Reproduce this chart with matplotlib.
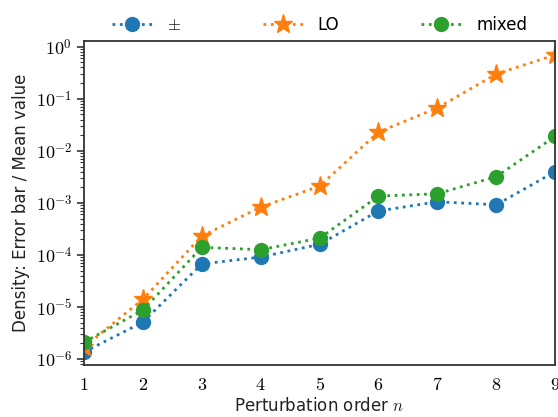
import matplotlib
matplotlib.use("Agg")
import matplotlib.pyplot as plt
import numpy as np

plt.rcParams['mathtext.fontset'] = 'cm'
plt.rcParams['font.family'] = ['DejaVu Sans']

orders = [1, 2, 3, 4, 5, 6, 7, 8, 9]
pm_vals = [1.36e-6, 5.1e-6, 6.7e-5, 9.1e-5, 1.6e-4, 7.0e-4, 1.05e-3, 9.2e-4, 4.0e-3]
lo_vals = [1.7e-6, 1.4e-5, 2.3e-4, 8.3e-4, 2.1e-3, 2.3e-2, 6.7e-2, 0.30, 0.70]
mixed_vals = [2.1e-6, 8.7e-6, 1.4e-4, 1.26e-4, 2.1e-4, 1.35e-3, 1.5e-3, 3.2e-3, 1.9e-2]
labels = [r'$\pm$', 'LO', 'mixed']

fig = plt.figure(figsize=(5.58, 4.17), dpi=100)
ax = fig.add_axes([0.1505, 0.125, 0.8445, 0.777])

ax.plot(orders, pm_vals, ls=':', marker='o', ms=10, color='#1f77b4', lw=2, label=labels[0])
ax.plot(orders, lo_vals, ls=':', marker='*', ms=14, color='#ff7f0e', lw=2, label=labels[1])
ax.plot(orders, mixed_vals, ls=':', marker='o', ms=10, color='#2ca02c', lw=2, label=labels[2])

ax.set_yscale('log')
ax.set_xlim(1, 9)
ax.set_ylim(7.7e-7, 1.3)
ax.set_xticks(orders)
ax.set_xticklabels([f'${o}$' for o in orders], fontsize=13)
ax.set_yticks([1e-6, 1e-5, 1e-4, 1e-3, 1e-2, 1e-1, 1e0])
ax.set_yticklabels([r'$10^{-6}$', r'$10^{-5}$', r'$10^{-4}$', r'$10^{-3}$', r'$10^{-2}$', r'$10^{-1}$', r'$10^{0}$'], fontsize=13)
ax.yaxis.set_minor_locator(matplotlib.ticker.LogLocator(base=10, subs=np.arange(2, 10), numticks=20))
ax.yaxis.set_minor_formatter(matplotlib.ticker.NullFormatter())
ax.tick_params(axis='both', which='major', length=5, width=1.2, color='#333333', direction='out')
ax.tick_params(axis='y', which='minor', length=3, width=0.8, color='#333333')
ax.tick_params(axis='x', which='major', length=0, pad=8)
for s in ax.spines.values():
    s.set_color('#333333')
    s.set_linewidth(1.3)

ax.set_xlabel('Perturbation order $n$', fontsize=12, color='#222222', labelpad=2)
ax.set_ylabel('Density: Error bar / Mean value', fontsize=12, color='#222222')

ax.legend(loc='lower center', bbox_to_anchor=(0.5, 1.01), ncol=3,
          frameon=False, fontsize=12, handlelength=2.4, handletextpad=0.9,
          columnspacing=4.9, borderaxespad=0, borderpad=0.2)

fig.savefig('out.png', dpi=100)
